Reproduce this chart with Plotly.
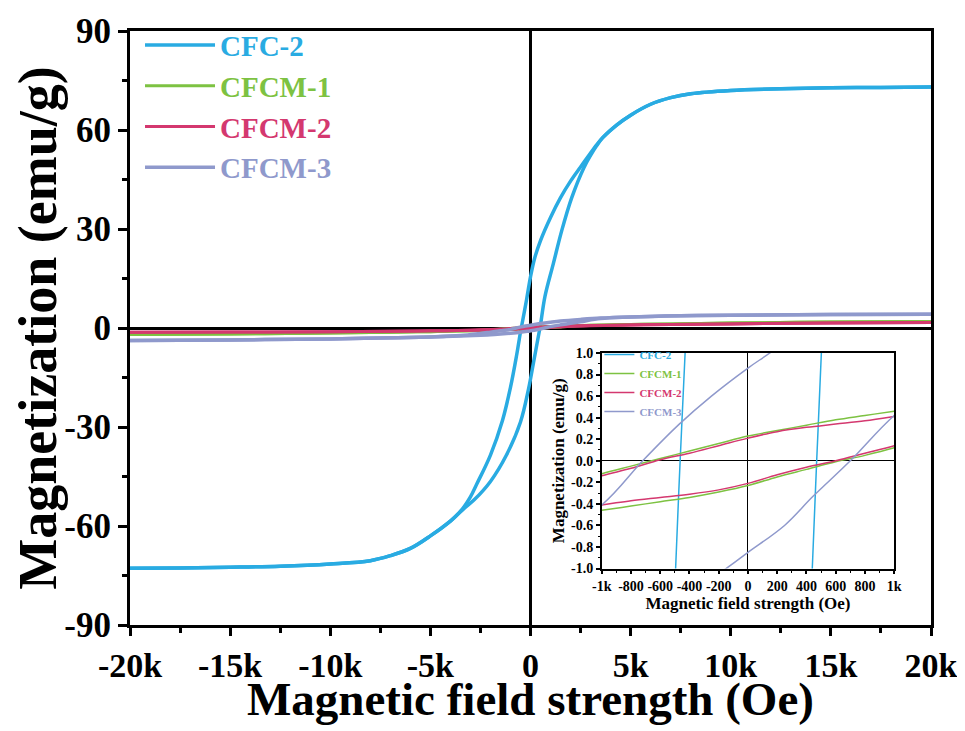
import plotly.graph_objects as go

# ---------------- data (H in Oe, M in emu/g) ----------------
# CFC-2
cfc2_h_down = [20000, 17500, 15000, 12500, 10000, 8000, 7000, 6000, 5000, 4300, 3600, 3300, 3000,
               2500, 2000, 1500, 1000, 500, 200, 0, -200, -430, -464, -495, -700, -1000, -1400,
               -2000, -2700, -3000, -3300, -3600, -4000, -5000, -6000, -7000, -8000, -10000,
               -12500, -15000, -17500, -20000]
cfc2_m_down = [73.0, 72.9, 72.8, 72.5, 72.0, 71.0, 69.8, 67.8, 64.5, 61.5, 57.7, 55.5, 53.0,
               48.8, 44.5, 39.5, 33.5, 26.5, 21.0, 15.5, 8.5, 1.0, 0.0, -1.0, -8.5, -18.0, -28.0,
               -38.5, -47.5, -51.2, -54.0, -56.2, -58.5, -63.0, -66.8, -69.0, -70.5, -71.5,
               -72.2, -72.5, -72.7, -72.8]
cfc2_h_up = [-20000, -17500, -15000, -12500, -10000, -8000, -7000, -6000, -5000, -4000, -3600,
             -3300, -2800, -2000, -1200, -500, -100, 150, 440, 470, 502, 720, 1140, 1560, 2060,
             2660, 3000, 3300, 3600, 4300, 5000, 6000, 7000, 8000, 10000, 12500, 15000, 17500,
             20000]
cfc2_m_up = [-72.8, -72.7, -72.5, -72.2, -71.5, -70.5, -69.0, -66.8, -63.0, -58.5, -56.3,
             -54.6, -52.0, -46.5, -38.5, -28.5, -18.5, -10.5, -1.0, 0.0, 1.0, 9.5, 19.5, 29.5,
             39.5, 48.5, 52.3, 55.2, 57.6, 61.5, 64.5, 67.8, 69.8, 71.0, 72.0, 72.5, 72.8, 72.9,
             73.0]

# CFCM-1 / CFCM-2 share the same field grid
cfcm_h_down = [20000, 15000, 10000, 7000, 5000, 3000, 2000, 1500, 1000, 800, 600, 400, 200, 0,
               -200, -400, -600, -800, -1000, -1500, -2000, -3000, -5000, -7000, -10000, -15000,
               -20000]
cfcm_h_up = [-20000, -15000, -10000, -7000, -5000, -3000, -2000, -1500, -1000, -800, -600, -400,
             -200, 0, 200, 400, 600, 800, 1000, 1500, 2000, 3000, 5000, 7000, 10000, 15000, 20000]

cfcm1_m_down = [2.0, 1.8, 1.5, 1.25, 1.05, 0.82, 0.66, 0.57, 0.46, 0.42, 0.38, 0.33, 0.28, 0.23,
                0.16, 0.09, 0.02, -0.05, -0.12, -0.33, -0.52, -0.8, -1.1, -1.3, -1.55, -1.8, -2.0]
cfcm1_m_up = [-2.0, -1.8, -1.55, -1.3, -1.1, -0.82, -0.66, -0.57, -0.46, -0.42, -0.38, -0.34,
              -0.29, -0.23, -0.15, -0.08, -0.01, 0.05, 0.12, 0.33, 0.52, 0.8, 1.05, 1.25, 1.5,
              1.8, 2.0]

cfcm2_m_down = [1.7, 1.5, 1.25, 1.07, 0.92, 0.72, 0.6, 0.52, 0.41, 0.37, 0.34, 0.31, 0.27, 0.21,
                0.14, 0.07, 0.01, -0.07, -0.14, -0.33, -0.48, -0.68, -0.86, -0.98, -1.1, -1.22,
                -1.3]
cfcm2_m_up = [-1.3, -1.22, -1.1, -0.98, -0.86, -0.7, -0.57, -0.5, -0.41, -0.37, -0.34, -0.31,
              -0.27, -0.21, -0.13, -0.06, 0.0, 0.07, 0.14, 0.33, 0.5, 0.7, 0.92, 1.07, 1.25, 1.5,
              1.7]

# CFCM-3
cfcm3_h_down = [20000, 15000, 10000, 7500, 5000, 3500, 2500, 1500, 1000, 500, 150, 0, -250, -470,
                -720, -1000, -1500, -2000, -2500, -3500, -5000, -7500, -10000, -15000, -20000]
cfcm3_m_down = [4.2, 4.1, 3.9, 3.7, 3.35, 3.0, 2.6, 2.1, 1.75, 1.35, 1.0, 0.86, 0.6, 0.34, 0.0,
                -0.41, -0.85, -1.25, -1.65, -2.3, -2.7, -3.05, -3.3, -3.6, -3.8]
cfcm3_h_up = [-20000, -15000, -10000, -7500, -5000, -3500, -2500, -2000, -1500, -1000, -500,
              -150, 0, 250, 445, 700, 1000, 1500, 2000, 2500, 3500, 5000, 7500, 10000, 15000,
              20000]
cfcm3_m_up = [-3.8, -3.6, -3.3, -3.05, -2.75, -2.45, -2.2, -2.05, -1.85, -1.6, -1.3, -1.0, -0.85,
              -0.6, -0.33, 0.0, 0.42, 0.95, 1.45, 1.9, 2.85, 3.3, 3.7, 3.9, 4.1, 4.2]

names = ["CFC-2", "CFCM-1", "CFCM-2", "CFCM-3"]
colors = ["#29ABE2", "#7DC242", "#D4386F", "#8F99CC"]

main_x_ticks = [-20000, -15000, -10000, -5000, 0, 5000, 10000, 15000, 20000]
main_x_labels = ["-20k", "-15k", "-10k", "-5k", "0", "5k", "10k", "15k", "20k"]
main_y_ticks = [-90, -60, -30, 0, 30, 60, 90]
main_y_labels = ["-90", "-60", "-30", "0", "30", "60", "90"]
inset_x_ticks = [-1000, -800, -600, -400, -200, 0, 200, 400, 600, 800, 1000]
inset_x_labels = ["-1k", "-800", "-600", "-400", "-200", "0", "200", "400", "600", "800", "1k"]
inset_y_ticks = [-1.0, -0.8, -0.6, -0.4, -0.2, 0.0, 0.2, 0.4, 0.6, 0.8, 1.0]
inset_y_labels = ["-1.0", "-0.8", "-0.6", "-0.4", "-0.2", "0.0", "0.2", "0.4", "0.6", "0.8", "1.0"]

series = [
    (cfc2_h_down, cfc2_m_down, cfc2_h_up, cfc2_m_up),
    (cfcm_h_down, cfcm1_m_down, cfcm_h_up, cfcm1_m_up),
    (cfcm_h_down, cfcm2_m_down, cfcm_h_up, cfcm2_m_up),
    (cfcm3_h_down, cfcm3_m_down, cfcm3_h_up, cfcm3_m_up),
]

FONT = "Liberation Serif, Times New Roman, serif"
SMOOTH = 1.0

fig = go.Figure()
main_widths = [3.5, 3, 3, 3.5]
for i, (hd, md, hu, mu) in enumerate(series):
    label = f"<span style='color:{colors[i]}'>{names[i]}</span>"
    for j, (hx, my) in enumerate([(hd, md), (hu, mu)]):
        fig.add_trace(go.Scatter(x=hx, y=my, mode="lines", name=label, legend="legend",
                                 legendgroup=names[i], showlegend=(j == 0),
                                 line=dict(color=colors[i], width=main_widths[i],
                                           shape="spline", smoothing=SMOOTH),
                                 xaxis="x", yaxis="y"))
for i, (hd, md, hu, mu) in enumerate(series):
    label = f"<span style='color:{colors[i]}'>{names[i]}</span>"
    for j, (hx, my) in enumerate([(hd, md), (hu, mu)]):
        fig.add_trace(go.Scatter(x=hx, y=my, mode="lines", name=label, legend="legend2",
                                 legendgroup=names[i] + "_in", showlegend=(j == 0),
                                 line=dict(color=colors[i], width=1.5, shape="spline",
                                           smoothing=SMOOTH),
                                 xaxis="x2", yaxis="y2"))

axis_common = dict(showline=True, linecolor="black", mirror=True, showgrid=False,
                   zeroline=True, zerolinecolor="black", ticks="outside", tickcolor="black",
                   automargin=False)

# page body adds an 8px offset, so the figure is 8px smaller in each direction
fig.update_layout(
    width=957, height=723,
    margin=dict(l=122, r=34, t=17, b=106),
    paper_bgcolor="white", plot_bgcolor="white",
    font=dict(family=FONT, color="black", weight="bold"),
    xaxis=dict(**axis_common, domain=[0, 1], range=[-20000, 20000], linewidth=3,
               zerolinewidth=3, ticklen=8, tickwidth=3, tickmode="array",
               tickvals=main_x_ticks, ticktext=main_x_labels,
               tickfont=dict(size=34, family=FONT, weight="bold"),
               minor=dict(dtick=2500, tick0=0, ticks="outside", ticklen=5, tickwidth=3,
                          tickcolor="black")),
    yaxis=dict(**axis_common, domain=[0, 1], range=[-90, 90], linewidth=3,
               zerolinewidth=3, ticklen=9, tickwidth=3, tickmode="array",
               tickvals=main_y_ticks, ticktext=main_y_labels,
               tickfont=dict(size=35, family=FONT, weight="bold"),
               minor=dict(dtick=15, tick0=0, ticks="outside", ticklen=5, tickwidth=3,
                          tickcolor="black"),
               title=dict(text="Magnetization (emu/g)", standoff=5,
                          font=dict(size=54, family=FONT, weight="bold"))),
    xaxis2=dict(**axis_common, domain=[0.589, 0.954], anchor="y2", range=[-1000, 1000],
                linewidth=1.5, zerolinewidth=1.2, ticklen=4, tickwidth=1.5, tickmode="array",
                tickvals=inset_x_ticks, ticktext=inset_x_labels,
                tickfont=dict(size=14, family=FONT, weight="bold"),
                minor=dict(dtick=100, tick0=0, ticks="outside", ticklen=2.5, tickwidth=1,
                           tickcolor="black"),
                title=dict(text="Magnetic field strength (Oe)", standoff=2,
                           font=dict(size=17, family=FONT, weight="bold"))),
    yaxis2=dict(**axis_common, domain=[0.095, 0.458], anchor="x2", range=[-1, 1],
                linewidth=1.5, zerolinewidth=1.2, ticklen=4, tickwidth=1.5, tickmode="array",
                tickvals=inset_y_ticks, ticktext=inset_y_labels,
                tickfont=dict(size=14, family=FONT, weight="bold"),
                minor=dict(dtick=0.1, tick0=0, ticks="outside", ticklen=2.5, tickwidth=1,
                           tickcolor="black"),
                title=dict(text="Magnetization (emu/g)", standoff=2,
                           font=dict(size=17, family=FONT, weight="bold"))),
    legend=dict(x=0.0125, y=1.019, xanchor="left", yanchor="top", bgcolor="rgba(0,0,0,0)",
                font=dict(size=29, family=FONT, weight="bold"), tracegroupgap=0,
                itemwidth=70),
    legend2=dict(x=0.586, y=0.48, xanchor="left", yanchor="top", bgcolor="rgba(0,0,0,0)",
                 font=dict(size=11, family=FONT, weight="bold"), tracegroupgap=0),
    annotations=[dict(text="Magnetic field strength (Oe)", xref="paper", yref="paper",
                      x=0.5, y=-0.077, xanchor="center", yanchor="top", showarrow=False,
                      font=dict(size=47, family=FONT, weight="bold", color="black"))],
)

fig.write_html("out.html")
